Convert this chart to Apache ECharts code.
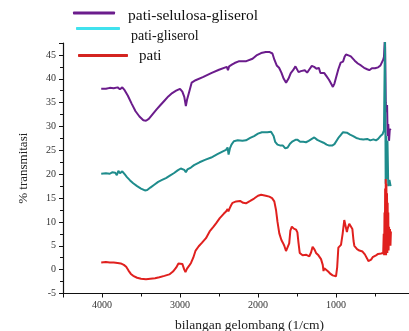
<!DOCTYPE html>
<html>
<head>
<meta charset="utf-8">
<script src="https://cdn.jsdelivr.net/npm/echarts@6/dist/echarts.min.js"></script>
<style>
  html, body { margin: 0; padding: 0; background: #fff; }
  #chart { width: 409px; height: 331px; }
</style>
</head>
<body>
<div id="chart"></div>
<script>
// [wavenumber (1/cm), % transmitasi]
const patiSelulosaGliserol = [
  [4010, 37.9], [3950, 37.9], [3900, 38.1], [3850, 38.0], [3800, 38.2], [3770, 37.8], [3740, 38.2],
  [3710, 37.6], [3670, 36.5], [3620, 34.8], [3570, 33.2], [3520, 32.1], [3470, 31.3], [3436, 31.2],
  [3400, 31.6], [3350, 32.6], [3300, 33.6], [3250, 34.5], [3200, 35.4], [3150, 36.3], [3100, 37.0],
  [3050, 37.5], [3000, 37.9], [2970, 37.3], [2945, 36.2], [2925, 34.3], [2910, 35.6], [2895, 36.0],
  [2880, 37.4], [2850, 39.2], [2800, 39.7], [2700, 40.4], [2600, 41.2], [2500, 41.9], [2400, 42.5],
  [2385, 41.8], [2370, 42.6], [2330, 43.0], [2300, 43.3], [2240, 43.7], [2150, 43.7], [2070, 44.2],
  [2020, 44.9], [1960, 45.4], [1900, 45.6], [1850, 45.6], [1815, 45.3], [1790, 44.0], [1760, 42.8],
  [1730, 42.3], [1700, 41.3], [1670, 40.0], [1640, 39.2], [1610, 40.0], [1580, 41.2], [1550, 41.8],
  [1520, 42.6], [1500, 42.4], [1480, 41.4], [1450, 41.6], [1430, 41.2], [1400, 41.8], [1370, 41.3],
  [1340, 42.0], [1310, 42.7], [1280, 42.5], [1250, 42.1], [1220, 42.3], [1200, 41.2], [1180, 41.6],
  [1150, 41.2], [1120, 40.5], [1090, 39.8], [1060, 38.9], [1040, 38.3], [1020, 39.0], [1000, 40.2],
  [970, 42.0], [940, 43.4], [910, 43.6], [890, 44.6], [872, 45.1], [840, 44.9], [810, 44.7],
  [787, 44.5], [760, 43.8], [720, 43.2], [680, 42.8], [640, 42.3], [600, 42.0], [573, 41.8],
  [540, 42.2], [500, 42.2], [460, 42.4], [430, 42.8], [410, 43.5], [395, 44.0], [385, 44.6],
  [378, 45.0], [372, 49.0], [362, 35.0], [355, 33.0], [345, 34.5], [338, 28.0], [330, 30.5],
  [320, 27.0], [310, 29.5], [300, 29.2]
];

const patiGliserol = [
  [4010, 20.1], [3950, 20.2], [3900, 20.1], [3870, 20.4], [3850, 20.1], [3830, 20.3], [3810, 19.8],
  [3790, 20.7], [3770, 20.2], [3740, 20.6], [3710, 20.0], [3680, 19.4], [3640, 18.7], [3600, 18.1],
  [3550, 17.5], [3500, 17.0], [3450, 16.6], [3420, 16.7], [3380, 17.2], [3330, 17.8], [3280, 18.4],
  [3230, 18.8], [3180, 19.2], [3130, 19.7], [3080, 20.2], [3030, 20.8], [2990, 21.2], [2967, 21.3],
  [2945, 20.9], [2925, 20.4], [2905, 21.0], [2880, 21.0], [2860, 21.4], [2820, 21.9], [2750, 22.5],
  [2680, 23.0], [2600, 23.5], [2520, 24.2], [2450, 24.8], [2410, 25.1], [2390, 25.6], [2377, 24.1],
  [2360, 25.4], [2340, 26.2], [2310, 26.9], [2260, 27.1], [2200, 27.0], [2154, 27.1], [2100, 27.6],
  [2050, 28.0], [2000, 28.5], [1950, 28.8], [1880, 28.8], [1833, 28.9], [1800, 28.0], [1780, 26.8],
  [1750, 26.2], [1710, 26.0], [1680, 26.0], [1650, 25.4], [1620, 25.6], [1590, 26.4], [1556, 26.9],
  [1520, 27.2], [1492, 27.2], [1460, 26.8], [1420, 26.8], [1385, 26.7], [1350, 27.0], [1310, 27.4],
  [1278, 27.7], [1240, 27.2], [1200, 26.9], [1160, 26.6], [1120, 26.2], [1086, 26.0], [1050, 26.0],
  [1020, 26.3], [1000, 26.6], [970, 27.6], [940, 28.2], [910, 28.8], [894, 29.1], [860, 28.7],
  [820, 28.3], [780, 28.0], [740, 27.6], [700, 27.4], [650, 27.3], [600, 27.4], [560, 27.1],
  [520, 27.3], [487, 27.1], [460, 27.4], [430, 28.0], [403, 28.4], [385, 29.2], [376, 29.5],
  [372, 49.0], [368, 49.0], [363, 18.0], [355, 28.0], [348, 19.0], [340, 27.0], [330, 17.5],
  [315, 18.8], [300, 17.5]
];

const pati = [
  [4010, 1.5], [3950, 1.6], [3900, 1.5], [3850, 1.5], [3800, 1.4], [3760, 1.3], [3720, 1.0],
  [3690, 0.6], [3660, -0.2], [3630, -0.9], [3600, -1.3], [3550, -1.7], [3500, -1.9], [3436, -2.0],
  [3380, -1.9], [3320, -1.8], [3265, -1.6], [3200, -1.3], [3137, -1.0], [3090, -0.4], [3050, 0.4],
  [3020, 1.3], [3000, 1.6], [2970, 1.2], [2945, 0.0], [2930, -0.5], [2910, 0.2], [2880, 0.9],
  [2859, 1.4], [2830, 2.5], [2800, 4.0], [2760, 4.9], [2720, 5.6], [2667, 6.6], [2620, 8.0],
  [2570, 9.0], [2538, 9.7], [2490, 10.8], [2440, 11.7], [2410, 12.2], [2390, 12.7], [2380, 12.2],
  [2365, 12.8], [2345, 13.5], [2326, 14.0], [2280, 14.3], [2230, 14.4], [2190, 14.0], [2154, 13.9],
  [2100, 14.4], [2050, 14.9], [2000, 15.5], [1960, 15.7], [1900, 15.5], [1855, 15.3], [1820, 15.0],
  [1791, 14.3], [1769, 12.5], [1750, 10.0], [1727, 7.6], [1700, 6.2], [1680, 5.6], [1663, 5.0],
  [1641, 3.9], [1620, 4.0], [1600, 5.5], [1585, 8.2], [1566, 9.0], [1540, 8.6], [1513, 8.4],
  [1495, 7.8], [1480, 5.5], [1465, 3.5], [1428, 3.0], [1380, 3.1], [1342, 2.8], [1320, 3.6],
  [1300, 4.8], [1275, 4.2], [1256, 3.5], [1225, 3.0], [1192, 2.2], [1170, 1.0], [1160, -0.3],
  [1150, 0.3], [1130, 0.2], [1100, -0.4], [1070, -0.9], [1043, -1.2], [1020, -1.5], [1000, -1.4],
  [985, 0.5], [970, 4.6], [950, 5.0], [936, 5.2], [915, 7.5], [894, 10.4], [875, 9.0], [860, 7.9],
  [851, 8.6], [830, 9.6], [808, 9.7], [790, 8.5], [775, 6.0], [765, 5.0], [750, 5.2], [730, 4.3],
  [700, 4.0], [660, 3.8], [630, 3.2], [600, 2.3], [585, 1.8], [573, 2.2], [550, 2.1], [530, 2.6],
  [510, 2.7], [487, 3.0], [460, 3.3], [440, 3.5], [423, 3.4], [405, 3.0], [395, 3.5], [388, 7.5],
  [383, 3.0], [378, 12.0], [374, 3.2], [370, 17.0], [366, 4.0], [362, 19.0], [358, 3.0], [354, 18.0],
  [350, 4.0], [346, 16.0], [342, 3.5], [338, 14.0], [334, 5.0], [330, 12.0], [326, 4.0], [320, 9.0],
  [314, 5.0], [308, 8.5], [302, 5.0], [296, 8.0]
];

const seriesNames = ['pati-selulosa-gliserol', 'pati-gliserol', 'pati'];
const yTicks = { min: -5, max: 47.5, step: 5 };
const xTicks = { min: 0, max: 4500, step: 1000 };

const serif = 'Liberation Serif';
const lineColors = ['#6b1c8c', '#1f8c8c', '#e0201e'];
const legendColors = ['#6b1c8c', '#40e2ee', '#d42420'];

const chart = echarts.init(document.getElementById('chart'));

// one legend block per entry, the original has them staggered
const legendPos = [
  { left: 73, top: 8, w: 42, shift: 6, gap: 8, size: 15.5 },
  { left: 76, top: 27, w: 44, shift: 16, gap: 6, size: 14 },
  { left: 78, top: 49, w: 50, shift: 2, gap: 6, size: 15 }
];

const legends = seriesNames.map((name, i) => ({
  left: legendPos[i].left,
  top: legendPos[i].top,
  padding: 0,
  icon: 'roundRect',
  itemWidth: legendPos[i].w,
  itemHeight: 3,
  selectedMode: false,
  data: [{ name: name, itemStyle: { color: legendColors[i] } }],
  formatter: '{t|{name}}',
  textStyle: {
    rich: {
      t: {
        fontFamily: serif,
        fontSize: legendPos[i].size,
        color: '#111',
        padding: [legendPos[i].shift, 0, 0, legendPos[i].gap]
      }
    }
  }
}));

const option = {
  animation: false,
  backgroundColor: '#fff',
  legend: legends,
  grid: { left: 63, top: 43, bottom: 37.5, width: 351, outerBoundsMode: 'none', containLabel: false },
  xAxis: {
    type: 'value',
    inverse: true,
    min: xTicks.min,
    max: xTicks.max,
    interval: xTicks.step,
    name: 'bilangan gelombang (1/cm)',
    nameLocation: 'middle',
    nameGap: 25,
    nameTextStyle: { fontFamily: serif, fontSize: 13.5, color: '#222', padding: [0, 0, 0, 22] },
    axisLine: { onZero: false, lineStyle: { color: '#111', width: 1.2 } },
    axisTick: { show: true, length: 4, lineStyle: { color: '#111' } },
    minorTick: { show: true, splitNumber: 2, length: 3, lineStyle: { color: '#111' } },
    splitLine: { show: false },
    axisLabel: {
      fontFamily: serif, fontSize: 10, color: '#333', margin: 7,
      formatter: v => (v >= 1000 && v <= 4000 ? String(v) : '')
    }
  },
  yAxis: {
    type: 'value',
    min: yTicks.min,
    max: yTicks.max,
    interval: yTicks.step,
    name: '% transmitasi',
    nameLocation: 'middle',
    nameGap: 33,
    nameTextStyle: { fontFamily: serif, fontSize: 13, color: '#222' },
    axisLine: { show: true, onZero: false, lineStyle: { color: '#111', width: 1.2 } },
    axisTick: { show: true, length: 4, lineStyle: { color: '#111' } },
    minorTick: { show: true, splitNumber: 2, length: 3, lineStyle: { color: '#111' } },
    splitLine: { show: false },
    axisLabel: { fontFamily: serif, fontSize: 10, color: '#333', margin: 7, showMaxLabel: false }
  },
  series: [patiSelulosaGliserol, patiGliserol, pati].map((d, i) => ({
    name: seriesNames[i],
    type: 'line',
    data: d,
    showSymbol: false,
    color: lineColors[i],
    lineStyle: { width: 2, color: lineColors[i] }
  }))
};

chart.setOption(option);
</script>
</body>
</html>
